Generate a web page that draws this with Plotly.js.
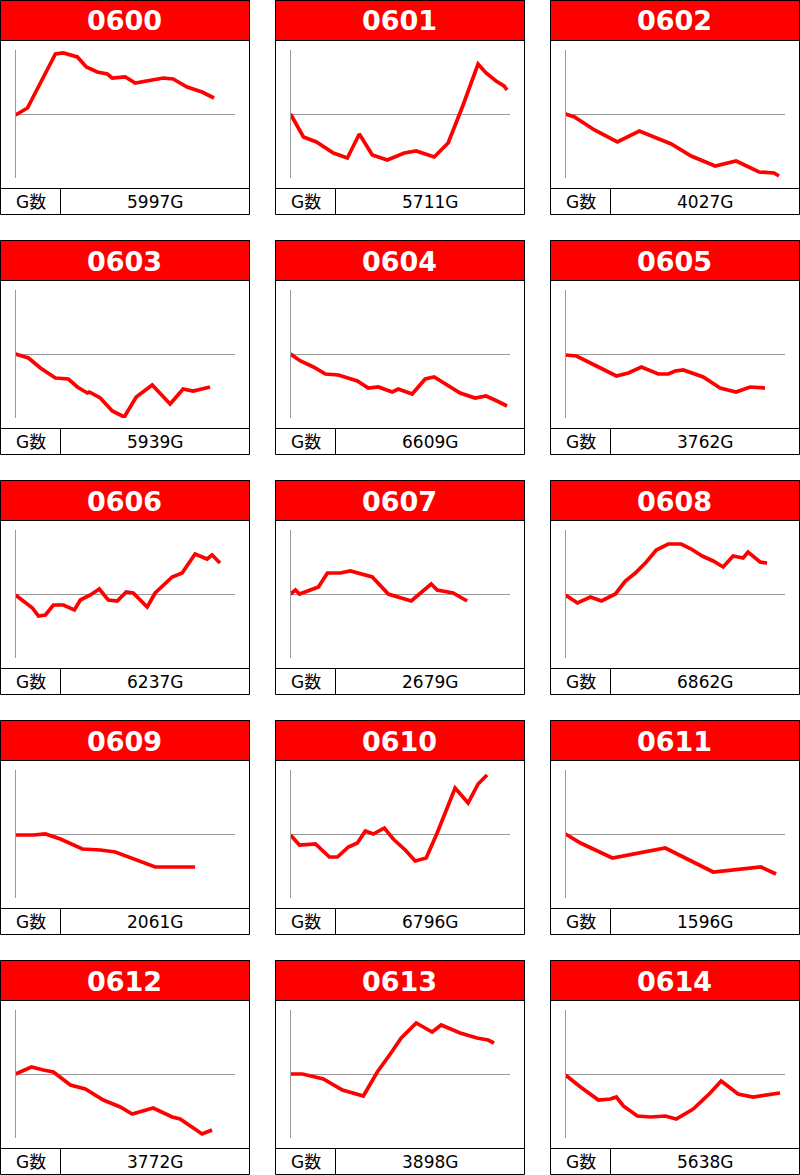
<!DOCTYPE html>
<html>
<head>
<meta charset="utf-8">
<script src="https://cdn.plot.ly/plotly-3.0.1.min.js"></script>
<style>
html,body{margin:0;padding:0;background:#fff;}
#chart{width:800px;height:1175px;}
</style>
</head>
<body>
<div id="chart"></div>
<script>
// Machine numbers
const names = ["0600","0601","0602","0603","0604","0605","0606","0607","0608","0609","0610","0611","0612","0613","0614"];
// Games played (G数)
const games = [5997,5711,4027,5939,6609,3762,6237,2679,6862,2061,6796,1596,3772,3898,5638];

// Series: position along the run (x) and difference (y)
const x0600 = [0,12,40,48,62,71,82,92,97,110,120,133,148,158,172,187,199];
const y0600 = [-1,6,60,61,57,47,42,40,36,37,31,33,36,35,27,22,16];
const x0601 = [0,13,26,43,57,69,82,97,114,126,144,158,173,188,196,206,214,217];
const y0601 = [0,-23,-28,-39,-44,-20,-41,-46,-39,-37,-43,-29,9,50,41,33,28,24];
const x0602 = [0,9,29,52,74,93,106,126,150,171,194,209,214];
const y0602 = [0,-3,-16,-28,-17,-25,-30,-42,-52,-47,-58,-59,-62];
const x0603 = [0,13,25,40,53,62,72,74,85,97,109,121,137,155,168,178,195];
const y0603 = [0,-4,-14,-24,-25,-33,-39,-38,-44,-57,-63,-43,-31,-50,-35,-37,-33];
const x0604 = [0,10,23,35,48,67,78,88,102,108,122,135,144,157,170,185,196,207,217];
const y0604 = [0,-7,-13,-20,-21,-27,-34,-33,-38,-35,-40,-25,-23,-31,-39,-44,-42,-47,-52];
const x0605 = [0,11,31,51,63,76,93,103,110,118,138,155,171,185,200];
const y0605 = [-1,-2,-12,-22,-19,-13,-20,-20,-17,-16,-23,-34,-38,-33,-34];
const x0606 = [0,7,17,23,30,38,48,59,65,75,84,93,102,111,118,132,140,157,167,180,192,197,205];
const y0606 = [-1,-6,-14,-22,-21,-11,-11,-16,-6,-1,5,-6,-7,2,1,-13,1,17,21,40,35,39,31];
const x0607 = [0,5,9,28,37,50,60,72,82,98,121,141,147,163,177];
const y0607 = [0,4,0,7,21,21,23,20,17,0,-7,10,4,1,-7];
const x0608 = [0,12,25,36,50,60,70,81,91,103,116,126,137,148,158,168,178,183,195,202];
const y0608 = [-1,-9,-3,-7,0,13,21,32,44,50,50,45,38,33,27,38,36,42,32,31];
const x0609 = [0,18,30,45,67,85,100,120,140,180];
const y0609 = [-1,-1,0,-5,-15,-16,-18,-26,-33,-33];
const x0610 = [0,9,25,39,47,58,67,75,83,94,103,115,125,136,147,165,178,188,197];
const y0610 = [-1,-11,-10,-23,-23,-13,-9,3,0,6,-5,-16,-27,-24,1,46,31,50,59];
const x0611 = [0,15,47,100,148,196,211];
const y0611 = [0,-9,-24,-14,-38,-33,-40];
const x0612 = [0,16,28,38,55,70,88,105,117,138,157,165,187,197];
const y0612 = [0,7,4,2,-11,-15,-26,-33,-40,-34,-43,-45,-60,-56];
const x0613 = [0,12,33,52,73,87,100,111,126,142,151,170,187,198,204];
const y0613 = [0,0,-5,-16,-22,2,20,36,51,42,49,41,36,34,31];
const x0614 = [0,15,33,45,51,58,72,85,100,111,128,145,156,173,188,205,215];
const y0614 = [-1,-13,-26,-25,-23,-32,-42,-43,-42,-45,-35,-19,-7,-20,-23,-20,-19];

const xs = [x0600,x0601,x0602,x0603,x0604,x0605,x0606,x0607,x0608,x0609,x0610,x0611,x0612,x0613,x0614];
const ys = [y0600,y0601,y0602,y0603,y0604,y0605,y0606,y0607,y0608,y0609,y0610,y0611,y0612,y0613,y0614];

const W = 800, H = 1175;
const px = v => v / W;
const py = v => 1 - v / H;

const traces = [];
const shapes = [];
const annotations = [];
const layout = {
  width: W, height: H,
  margin: {l:0, r:0, t:0, b:0, pad:0},
  paper_bgcolor: '#fff', plot_bgcolor: 'rgba(0,0,0,0)',
  showlegend: false,
  shapes: shapes, annotations: annotations
};

names.forEach((nm, i) => {
  const c = i % 3, r = Math.floor(i / 3);
  const left = c * 275, top = r * 240;
  const sfx = i === 0 ? '' : String(i + 1);
  traces.push({
    type: 'scatter', mode: 'lines',
    x: xs[i], y: ys[i],
    xaxis: 'x' + sfx, yaxis: 'y' + sfx,
    line: {color: '#ff0000', width: 3.7},
    hoverinfo: 'skip'
  });
  layout['xaxis' + sfx] = {
    domain: [px(left + 15.5), px(left + 235)],
    range: [0, 220], anchor: 'y' + sfx,
    showgrid: false, zeroline: false, showline: false,
    showticklabels: false, ticks: '', fixedrange: true
  };
  layout['yaxis' + sfx] = {
    domain: [py(top + 178), py(top + 50)],
    range: [-64, 64], anchor: 'x' + sfx,
    showgrid: false, zeroline: true, zerolinecolor: '#999', zerolinewidth: 1,
    showline: true, linecolor: '#999', linewidth: 1,
    showticklabels: false, ticks: '', fixedrange: true
  };
  const L = left + 0.5, R = left + 249.5;
  // header
  shapes.push({type:'rect', xref:'paper', yref:'paper', x0:px(L), x1:px(R), y0:py(top + 40.5), y1:py(top + 0.5),
    fillcolor:'#ff0000', line:{color:'#000', width:1}, layer:'below'});
  // whole panel outline
  shapes.push({type:'rect', xref:'paper', yref:'paper', x0:px(L), x1:px(R), y0:py(top + 214.5), y1:py(top + 0.5),
    fillcolor:'rgba(0,0,0,0)', line:{color:'#000', width:1}, layer:'below'});
  // footer separator
  shapes.push({type:'line', xref:'paper', yref:'paper', x0:px(L), x1:px(R), y0:py(top + 188.5), y1:py(top + 188.5),
    line:{color:'#000', width:1}, layer:'below'});
  shapes.push({type:'line', xref:'paper', yref:'paper', x0:px(left + 60.5), x1:px(left + 60.5), y0:py(top + 188.5), y1:py(top + 214.5),
    line:{color:'#000', width:1}, layer:'below'});
  annotations.push({xref:'paper', yref:'paper', x:px(left + 124.5), y:py(top + 21), xanchor:'center', yanchor:'middle',
    text:'<b>' + nm + '</b>', showarrow:false,
    font:{family:'DejaVu Sans, Liberation Sans, sans-serif', size:27, color:'#fff'}});
  annotations.push({xref:'paper', yref:'paper', x:px(left + 30.5), y:py(top + 201.5), xanchor:'center', yanchor:'middle',
    text:'G数', showarrow:false,
    font:{family:'DejaVu Sans, Noto Sans CJK JP, sans-serif', size:17, color:'#000'}});
  annotations.push({xref:'paper', yref:'paper', x:px(left + 155), y:py(top + 201.5), xanchor:'center', yanchor:'middle',
    text: games[i] + 'G', showarrow:false,
    font:{family:'DejaVu Sans, sans-serif', size:17, color:'#000'}});
});

Plotly.newPlot('chart', traces, layout, {displayModeBar:false, staticPlot:true});
</script>
</body>
</html>
